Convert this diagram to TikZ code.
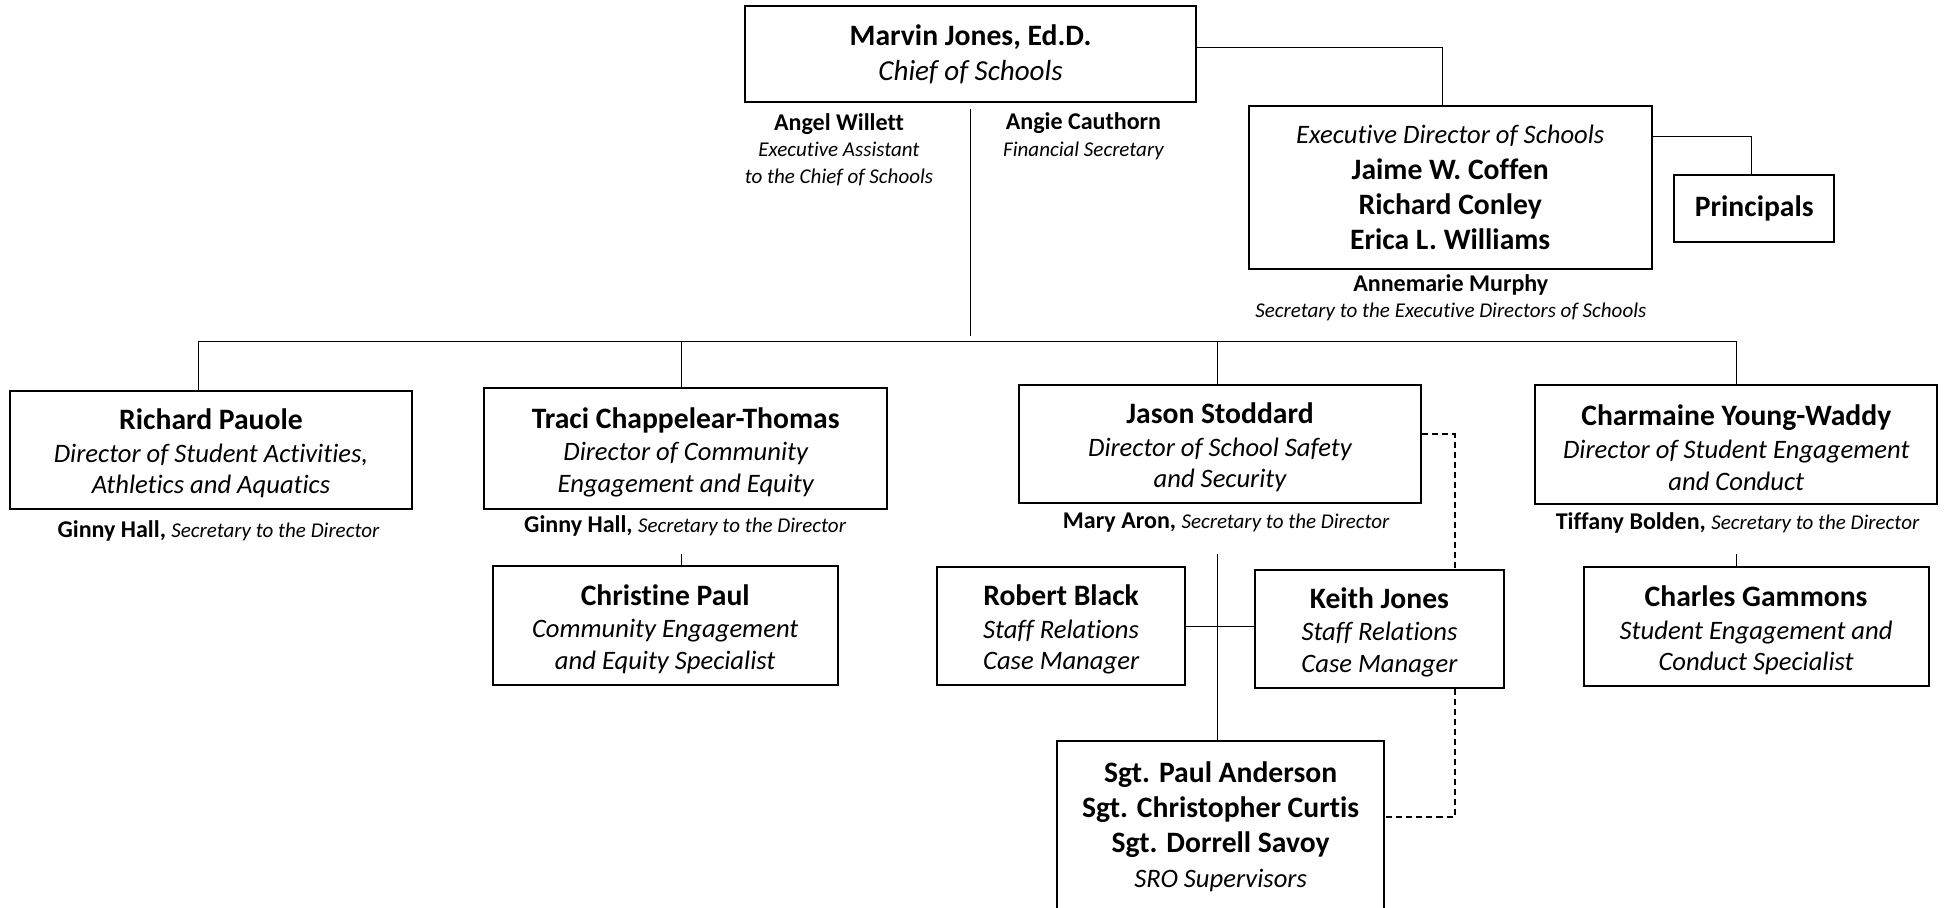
\documentclass[tikz,border=0pt]{standalone}
\usepackage{fontspec}
\setmainfont{Carlito}[Ligatures={NoCommon,NoContextual}]
\usepackage{tikz}
\usetikzlibrary{shapes.geometric, arrows}
\newcommand{\pname}[1]{{\fontsize{14.8}{17.5}\selectfont\bfseries #1}}
\newcommand{\headname}[1]{{\rule{0pt}{13.8pt}\fontsize{14.8}{17.5}\selectfont\bfseries #1}}
\newcommand{\prole}[1]{{\fontsize{13.3}{17.5}\selectfont\itshape #1}}
\newcommand{\secname}[1]{{\fontsize{12}{13.3}\selectfont\bfseries #1}}
\newcommand{\secrole}[1]{{\fontsize{10.5}{13.3}\selectfont\itshape #1}}
\tikzstyle{person} = [rectangle, draw=black, line width=1pt, fill=white, align=center, inner sep=0pt, font=\fontsize{13}{17.5}\selectfont]
\tikzstyle{director} = [person, font=\fontsize{13}{15.6}\selectfont]
\tikzstyle{secretary} = [align=center, inner sep=0pt, font=\fontsize{12}{13.3}\selectfont]
\tikzstyle{link} = [line width=0.6pt]
\tikzstyle{dottedlink} = [line width=1pt, dash pattern=on 3pt off 2pt]

\begin{document}
\begin{tikzpicture}[x=0.62pt, y=-0.62pt]
\useasboundingbox (0,0) rectangle (1568,731);
% Boxes
\node (chief) [person, minimum width=225.7pt, minimum height=47.7pt] at (782,43.5) {\pname{Marvin Jones, Ed.D.}\\{\fontsize{14.5}{17.5}\selectfont\itshape Chief of Schools}};
\node (exec) [person, minimum width=201.5pt, minimum height=81.8pt] at (1168.5,151) {\prole{Executive Director of Schools}\\\pname{Jaime W. Coffen}\\\pname{Richard Conley}\\\pname{Erica L. Williams}};
\node (principals) [person, minimum width=80pt, minimum height=33.5pt] at (1413.5,168) {\pname{Principals}};
\node (pauole) [director, minimum width=200.9pt, minimum height=58.9pt] at (170,362.5) {\headname{Richard Pauole}\\[0.8pt]\prole{Director of Student Activities,}\\\prole{Athletics and Aquatics}};
\node (chappelear) [director, minimum width=201.5pt, minimum height=60.1pt] at (552.5,361.5) {\headname{Traci Chappelear-Thomas}\\[0.8pt]\prole{Director of Community}\\\prole{Engagement and Equity}};
\node (stoddard) [director, minimum width=200.9pt, minimum height=58.9pt] at (983,357.5) {\headname{Jason Stoddard}\\[0.8pt]\prole{Director of School Safety}\\\prole{and Security}};
\node (youngwaddy) [director, minimum width=200.9pt, minimum height=59.5pt] at (1399,358) {\headname{Charmaine Young-Waddy}\\[0.8pt]\prole{Director of Student Engagement}\\\prole{and Conduct}};
\node (cpaul) [director, minimum width=172.4pt, minimum height=59.5pt] at (536,504) {\headname{Christine Paul}\\[0.8pt]\prole{Community Engagement}\\\prole{and Equity Specialist}};
\node (rblack) [director, minimum width=124pt, minimum height=58.9pt] at (855,504.5) {\headname{Robert Black}\\[0.8pt]\prole{Staff Relations}\\\prole{Case Manager}};
\node (kjones) [director, minimum width=124.6pt, minimum height=58.9pt] at (1111.5,506.5) {\headname{Keith Jones}\\[0.8pt]\prole{Staff Relations}\\\prole{Case Manager}};
\node (gammons) [director, minimum width=172.4pt, minimum height=59.5pt] at (1415,505) {\headname{Charles Gammons}\\[0.8pt]\prole{Student Engagement and}\\\prole{Conduct Specialist}};
\node (sgt) [person, minimum width=163.1pt, minimum height=85.6pt] at (983.5,666) {\pname{Sgt. Paul Anderson}\\\pname{Sgt. Christopher Curtis}\\\pname{Sgt. Dorrell Savoy}\\\prole{SRO Supervisors}};

% Secretaries
\node (willett) [secretary] at (676,120.5) {\secname{Angel Willett}\\\secrole{Executive Assistant}\\\secrole{to the Chief of Schools}};
\node (cauthorn) [secretary] at (873,110) {\secname{Angie Cauthorn}\\\secrole{Financial Secretary}};
\node (murphy) [secretary] at (1169,240) {\secname{Annemarie Murphy}\\\secrole{Secretary to the Executive Directors of Schools}};
\node (hall1) [secretary] at (176,428) {\secname{Ginny Hall,} \secrole{Secretary to the Director}};
\node (hall2) [secretary] at (552,424) {\secname{Ginny Hall,} \secrole{Secretary to the Director}};
\node (aron) [secretary] at (988,421) {\secname{Mary Aron,} \secrole{Secretary to the Director}};
\node (bolden) [secretary] at (1400,421) {\secname{Tiffany Bolden,} \secrole{Secretary to the Director}};

% Lines
\coordinate (bus) at (782,275);
\coordinate (b1) at (160,275);
\coordinate (b2) at (549,275);
\coordinate (b3) at (981,275);
\coordinate (b4) at (1399,275);
\coordinate (execturn) at (1162,38);
\coordinate (princturn) at (1411,110);
\coordinate (cpdrop) at (549,446);
\coordinate (sddrop) at (981,446);
\coordinate (gmdrop) at (1399,446);
\coordinate (dashA) at (1172,350);
\coordinate (dashB) at (1172,658);
\draw [link, shorten <=3pt, shorten >=2.5pt] (chief) -- (bus);
\draw [link] (b1) -- (b4);
\draw [link] (b1) -- (b1 |- pauole.north);
\draw [link] (b2) -- (b2 |- chappelear.north);
\draw [link] (b3) -- (b3 |- stoddard.north);
\draw [link] (b4) -- (b4 |- youngwaddy.north);
\draw [link] (chief.east |- execturn) -- (execturn) -- (execturn |- exec.north);
\draw [link] (exec.east |- princturn) -- (princturn) -- (princturn |- principals.north);
\draw [link] (cpdrop) -- (cpdrop |- cpaul.north);
\draw [link] (gmdrop) -- (gmdrop |- gammons.north);
\draw [link] (sddrop) -- (sddrop |- sgt.north);
\draw [link] (rblack.east) -- (rblack.east -| kjones.west);
\draw [dottedlink] (stoddard.east |- dashA) -- (dashA) -- (dashA |- kjones.north);
\draw [dottedlink] (dashB |- kjones.south) -- (dashB) -- (dashB -| sgt.east);
\end{tikzpicture}
\end{document}
